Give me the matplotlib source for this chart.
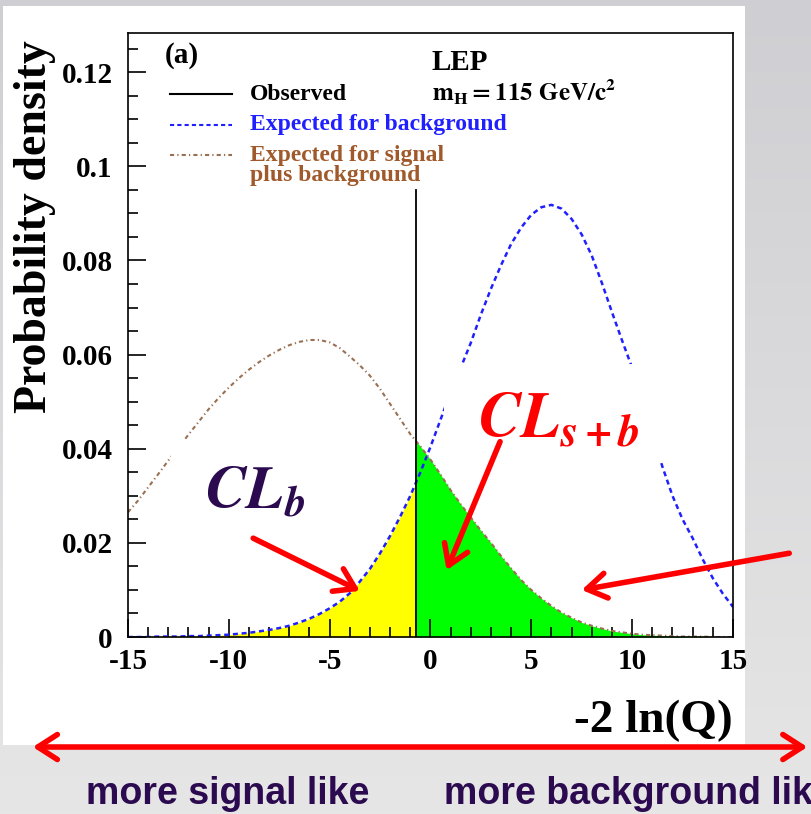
import numpy as np
import matplotlib.pyplot as plt
from matplotlib.patches import Rectangle, FancyArrowPatch
from matplotlib.colors import LinearSegmentedColormap
from matplotlib.ticker import MultipleLocator, FuncFormatter

plt.rcParams['font.family'] = ['Liberation Serif', 'DejaVu Serif']
plt.rcParams['font.weight'] = 'bold'
plt.rcParams['axes.labelweight'] = 'bold'
plt.rcParams['mathtext.fontset'] = 'stix'
plt.rcParams['axes.unicode_minus'] = False

# -2 ln(Q) sample points
q = np.arange(-15, 15.5, 0.5)

# expected for background
bkg = [0.0000, 0.0000, 0.0000, 0.0001, 0.0001, 0.0001, 0.0002, 0.0002, 0.0003, 0.0004,
       0.0005, 0.0007, 0.0009, 0.0012, 0.0015, 0.0019, 0.0024, 0.0031, 0.0039, 0.0049,
       0.0061, 0.0075, 0.0093, 0.0118, 0.0145, 0.0178, 0.0215, 0.0256, 0.0300, 0.0350,
       0.0404, 0.0462, 0.0520, 0.0572, 0.0625, 0.0685, 0.0740, 0.0790, 0.0835, 0.0870,
       0.0897, 0.0913, 0.0918, 0.0910, 0.0888, 0.0855, 0.0810, 0.0752, 0.0690, 0.0630,
       0.0572, 0.0500, 0.0432, 0.0362, 0.0300, 0.0250, 0.0210, 0.0165, 0.0125, 0.0092,
       0.0064]

# expected for signal plus background
sb = [0.0265, 0.0290, 0.0318, 0.0346, 0.0375, 0.0402, 0.0430, 0.0457, 0.0484, 0.0508,
      0.0530, 0.0550, 0.0568, 0.0584, 0.0598, 0.0610, 0.0620, 0.0627, 0.0631, 0.0631,
      0.0626, 0.0614, 0.0596, 0.0577, 0.0555, 0.0527, 0.0495, 0.0463, 0.0431, 0.0405,
      0.0377, 0.0345, 0.0312, 0.0282, 0.0254, 0.0226, 0.0200, 0.0172, 0.0146, 0.0121,
      0.0100, 0.0082, 0.0066, 0.0052, 0.0041, 0.0031, 0.0024, 0.0018, 0.0013, 0.0010,
      0.0007, 0.0005, 0.0004, 0.0003, 0.0002, 0.0001, 0.0001, 0.0001, 0.0000, 0.0000,
      0.0000]

observed = -0.72
observed_top = 0.095

purple = '#2b0a4f'
brown_txt = '#a0592a'
brown_line = '#9a7052'
blue = '#2020ff'

fig = plt.figure(figsize=(8.11, 8.14), dpi=100)

# grey slide background
bg = fig.add_axes([0, 0, 1, 1], zorder=-10)
grey = LinearSegmentedColormap.from_list('grey', ['#e6e6e6', '#cfcfd3'])
bg.imshow(np.linspace(0, 1, 256).reshape(-1, 1)[::-1], cmap=grey, aspect='auto',
          extent=[0, 1, 0, 1])
bg.axis('off')
fig.add_artist(Rectangle((0.0037, 0.0848), 0.915, 0.9079, transform=fig.transFigure,
                         facecolor='white', edgecolor='none', zorder=-5))

ax = fig.add_axes([0.1578, 0.2174, 0.746, 0.742])

# shaded areas either side of the observed value
yellow = ax.fill_between(q, 0, bkg, color='#ffff00', lw=0, zorder=1)
yellow.set_clip_path(Rectangle((-15, 0), observed + 15, 1, transform=ax.transData))
green = ax.fill_between(q, 0, sb, color='#00ff00', lw=0, zorder=1)
green.set_clip_path(Rectangle((observed, 0), 15 - observed, 1, transform=ax.transData))

ax.plot(q, bkg, color=blue, lw=1.8, ls=(0, (2, 1.5)), zorder=2)
ax.plot(q, sb, color=brown_line, lw=1.5, ls=(0, (2, 1.5, 0.6, 1.5)), zorder=2)

# white boxes behind the CL labels
ax.add_patch(Rectangle((0.65, 0.0375), 10.85, 0.0205, facecolor='white',
                       edgecolor='none', zorder=2.5))
ax.add_patch(Rectangle((-12.86, 0.02), 7.36, 0.0218, facecolor='white',
                       edgecolor='none', zorder=2.5))

ax.plot([observed, observed], [0, observed_top], color='black', lw=1.3, zorder=3)

ax.set_xlim(-15, 15)
ax.set_ylim(0, 0.1283)
ax.xaxis.set_major_locator(MultipleLocator(5))
ax.xaxis.set_minor_locator(MultipleLocator(1))
ax.yaxis.set_major_locator(MultipleLocator(0.02))
ax.yaxis.set_minor_locator(MultipleLocator(0.005))
ax.yaxis.set_major_formatter(FuncFormatter(lambda v, _: '%g' % round(v, 3)))
ax.tick_params(which='both', direction='in', top=False, right=False, width=1.2,
               labelsize=21)
ax.tick_params(which='major', length=13)
ax.tick_params(which='minor', length=7)
ax.tick_params(axis='y', pad=11)
ax.tick_params(axis='x', pad=8)
for s in ax.spines.values():
    s.set_linewidth(1.2)

ax.set_xlabel('-2 ln(Q)', loc='right', fontsize=34, fontweight='bold', labelpad=18)
fig.text(0.043, 0.951, 'Probability density', rotation=90, ha='center', va='top',
         fontsize=33)

# legend and labels
ax.text(0.061, 0.962, '(a)', transform=ax.transAxes, fontsize=21, va='center')
ax.text(0.502, 0.952, 'LEP', transform=ax.transAxes, fontsize=21, va='center')
ax.text(0.502, 0.902, r'$\mathbf{m_H = 115\ GeV/c^2}$', transform=ax.transAxes,
        fontsize=18, va='center')

rows = [(0.899, 'black', '-', 'Observed', 'black'),
        (0.8485, blue, (0, (2, 1.5)), 'Expected for background', blue),
        (0.798, brown_line, (0, (2, 1.5, 0.6, 1.5)), 'Expected for signal\nplus background',
         brown_txt)]
for yy, lc, ls, label, tc in rows:
    ax.plot([0.069, 0.172], [yy, yy], transform=ax.transAxes, color=lc, ls=ls, lw=1.5)
    if '\n' in label:
        ax.text(0.2017, yy + 0.017, label, transform=ax.transAxes, fontsize=17,
                color=tc, va='top', linespacing=0.95)
    else:
        ax.text(0.2017, yy, label, transform=ax.transAxes, fontsize=17,
                color=tc, va='center')

ax.text(-11.18, 0.0274, r'$\mathbfit{CL}_{\mathbfit{b}}$', color=purple, fontsize=44,
        ha='left', va='baseline', zorder=4)
ax.text(2.36, 0.0423, r'$\mathbfit{CL}_{\mathbfit{s+b}}$', color='red', fontsize=46,
        ha='left', va='baseline', zorder=4)

arrow = dict(arrowstyle='->,head_length=0.7,head_width=0.45', color='red', lw=4,
             mutation_scale=20, shrinkA=0, shrinkB=0)
ax.annotate('', xy=(-3.5, 0.0098), xytext=(-8.79, 0.021), arrowprops=arrow,
            annotation_clip=False, zorder=5)
ax.annotate('', xy=(0.8, 0.0142), xytext=(3.45, 0.0415), arrowprops=arrow,
            annotation_clip=False, zorder=5)
ax.annotate('', xy=(7.5, 0.010), xytext=(17.79, 0.0178), arrowprops=arrow,
            annotation_clip=False, zorder=5)

# direction bar under the plot
fig.add_artist(FancyArrowPatch((0.037, 0.0823), (0.999, 0.0823), transform=fig.transFigure,
                               arrowstyle='<->,head_length=0.7,head_width=0.45',
                               color='red', lw=4, mutation_scale=20))
bottom_font = ['Liberation Sans Narrow', 'Liberation Sans', 'DejaVu Sans']
fig.text(0.281, 0.012, 'more signal like', family=bottom_font, fontsize=27,
         color=purple, ha='center', va='baseline')
fig.text(0.5475, 0.012, 'more background like', family=bottom_font, fontsize=27,
         color=purple, ha='left', va='baseline')

fig.savefig('out.png', dpi=100)
